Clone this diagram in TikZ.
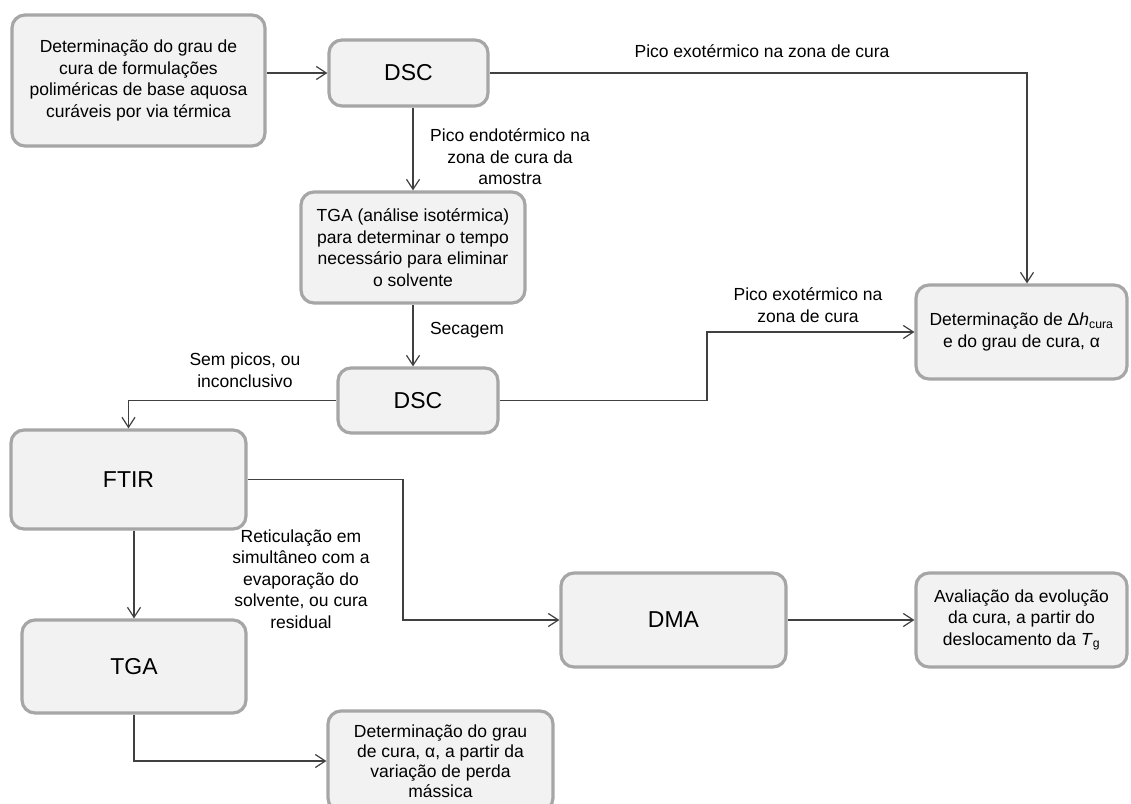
\documentclass[tikz,border=0pt]{standalone}
\usepackage{fontspec}
\setmainfont{Liberation Sans}
\usetikzlibrary{arrows.meta}
\definecolor{boxfill}{HTML}{F2F2F2}
\definecolor{boxline}{HTML}{A6A6A6}
\definecolor{linecol}{HTML}{404040}
\tikzset{
  boxnode/.style={draw=boxline, line width=3.2pt, fill=boxfill, rounded corners=13pt,
    inner sep=2pt, align=center, font=\fontsize{17.5}{21.5}\selectfont},
  bigbox/.style={boxnode, font=\fontsize{23}{27}\selectfont},
  lbl/.style={align=center, inner sep=0pt, font=\fontsize{17.5}{21.5}\selectfont},
  conn/.style={draw=linecol, line width=1.5pt},
  arr/.style={conn, -{Straight Barb[length=10pt,width=13pt,line width=1.2pt]}}
}
\begin{document}
\begin{tikzpicture}[x=1pt,y=-1pt]
\useasboundingbox (0,0) rectangle (1131,803);
\begin{scope}
\clip (0,0) rectangle (1131,803);
% boxes
\node[boxnode, minimum width=253pt, minimum height=131pt] (b1) at (138.5,80.5)
  {Determinação do grau de\\cura de formulações\\poliméricas de base aquosa\\curáveis por via térmica};
\node[bigbox, minimum width=159pt, minimum height=66pt] (dsc1) at (408.5,73) {DSC};
\node[boxnode, minimum width=224pt, minimum height=111pt] (tga1) at (413,247.5)
  {TGA (análise isotérmica)\\para determinar o tempo\\necessário para eliminar\\o solvente};
\node[bigbox, minimum width=160pt, minimum height=65pt] (dsc2) at (418,400.5) {DSC};
\node[boxnode, minimum width=211pt, minimum height=94pt] (dh) at (1021.5,332)
  {Determinação de Δ\textit{h}\textsubscript{cura}\\e do grau de cura, α};
\node[bigbox, minimum width=235pt, minimum height=99pt] (ftir) at (128.5,479.5) {FTIR};
\node[bigbox, minimum width=224pt, minimum height=93pt] (tga2) at (134,666.5) {TGA};
\node[bigbox, minimum width=225pt, minimum height=94pt] (dma) at (673.5,620) {DMA};
\node[boxnode, minimum width=211pt, minimum height=94pt] (aval) at (1021.5,620)
  {Avaliação da evolução\\da cura, a partir do\\deslocamento da \textit{T}\textsubscript{g}};
\node[boxnode, minimum width=225pt, minimum height=100pt, font=\fontsize{17.5}{20}\selectfont] (fin) at (440.5,761)
  {Determinação do grau\\de cura, α, a partir da\\variação de perda\\mássica};
% helper coordinates
\coordinate (c1) at (1027,0);
\coordinate (c2) at (707,0);
\coordinate (c3) at (403,0);
% connectors
\draw[arr] (b1.east |- dsc1.west) -- (dsc1.west);
\draw[arr] (dsc1.east) -| (c1 |- dh.north);
\draw[arr] (tga1.north |- dsc1.south) -- (tga1.north);
\draw[arr] (tga1.south) -- (tga1.south |- dsc2.north);
\draw[arr] (dsc2.east) -| (c2 |- dh.west) -- (dh.west);
\draw[arr] (dsc2.west) -| (ftir.north);
\draw[arr] (ftir.east) -| (c3 |- dma.west) -- (dma.west);
\draw[arr] (tga2.north |- ftir.south) -- (tga2.north);
\draw[arr] (tga2.south) |- (fin.west);
\draw[arr] (dma.east) -- (aval.west);
% labels
\node[lbl] (l1) at (762,51) {Pico exotérmico na zona de cura};
\node[lbl] (l2) at (510,157) {Pico endotérmico na\\zona de cura da\\amostra};
\node[lbl] (l3) at (467,330) {Secagem};
\node[lbl] (l4) at (808,305) {Pico exotérmico na\\zona de cura};
\node[lbl] (l5) at (245,370) {Sem picos, ou\\inconclusivo};
\node[lbl] (l6) at (301,579) {Reticulação em\\simultâneo com a\\evaporação do\\solvente, ou cura\\residual};
\end{scope}
\end{tikzpicture}
\end{document}
